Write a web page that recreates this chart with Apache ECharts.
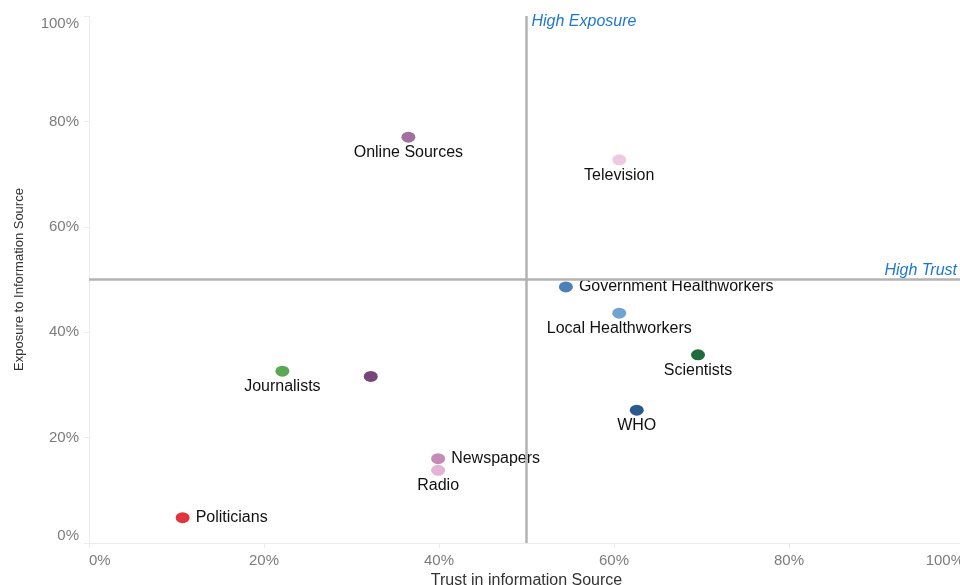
<!DOCTYPE html>
<html>
<head>
<meta charset="utf-8">
<title>Trust vs Exposure</title>
<script src="https://cdn.jsdelivr.net/npm/echarts@6/dist/echarts.min.js"></script>
<style>
    html, body { margin: 0; padding: 0; background: #fff; }
    #chart { width: 960px; height: 585px; }
</style>
</head>
<body>
<div id="chart"></div>
<script>
// fontes de informação e valores
const sources = ['Online Sources', 'Television', 'Government Healthworkers', 'Local Healthworkers',
    'Scientists', 'WHO', 'Journalists', '', 'Newspapers', 'Radio', 'Politicians'];
const trust = [36.5, 60.6, 54.5, 60.6, 69.6, 62.6, 22.1, 32.2, 39.9, 39.9, 10.7];
const exposure = [77.0, 72.7, 48.6, 43.6, 35.7, 25.2, 32.6, 31.6, 16.0, 13.8, 4.8];
const colors = ['#a2709f', '#f1c8e3', '#4c80b6', '#6fa3d0', '#1f6b3b', '#2b5a8c', '#5aa855',
    '#74467a', '#c78ab5', '#e3b4d6', '#e0343f'];
const labelSide = ['bottom', 'bottom', 'right', 'bottom', 'bottom', 'bottom', 'bottom',
    'bottom', 'right', 'bottom', 'right'];
const tickValues = [0, 20, 40, 60, 80, 100];
const threshold = 50;

document.addEventListener('DOMContentLoaded', () => {
    const chartEl = document.getElementById('chart');
    const chart = echarts.init(chartEl);

    const points = sources.map((name, i) => ({
        name,
        value: [trust[i], exposure[i]],
        itemStyle: { color: colors[i], opacity: 1 },
        label: {
            position: labelSide[i],
            distance: labelSide[i] === 'right' ? 6 : 2
        }
    }));

    const axisLine = { show: true, lineStyle: { color: '#ebebeb', width: 1 } };
    const axisTick = { show: true, length: 5, lineStyle: { color: '#ebebeb' } };

    const option = {
        backgroundColor: '#fff',
        animation: false,
        grid: { left: 89, right: -4, top: 16, bottom: 42, containLabel: false, outerBoundsMode: 'none' },
        xAxis: {
            type: 'value',
            min: 0,
            max: 100,
            interval: 20,
            name: 'Trust in information Source',
            nameLocation: 'middle',
            nameGap: 24,
            nameTextStyle: { color: '#333', fontSize: 16, fontFamily: 'Liberation Sans' },
            axisLine,
            axisTick,
            splitLine: { show: false },
            axisLabel: {
                color: '#7c7c7c',
                fontSize: 15,
                fontFamily: 'Liberation Sans',
                margin: 10,
                alignMinLabel: 'left',
                alignMaxLabel: 'right',
                formatter: (v) => (tickValues.includes(v) ? v + '%' : '')
            }
        },
        yAxis: {
            type: 'value',
            min: 0,
            max: 100,
            interval: 20,
            name: 'Exposure to Information Source',
            nameLocation: 'middle',
            nameGap: 63,
            nameTextStyle: { color: '#333', fontSize: 13, fontFamily: 'Liberation Sans' },
            axisLine,
            axisTick,
            splitLine: { show: false },
            axisLabel: {
                color: '#7c7c7c',
                fontSize: 15,
                fontFamily: 'Liberation Sans',
                margin: 10,
                verticalAlignMinLabel: 'bottom',
                verticalAlignMaxLabel: 'top',
                formatter: (v) => (tickValues.includes(v) ? v + '%' : '')
            }
        },
        series: [
            {
                name: 'Sources',
                type: 'scatter',
                symbol: 'circle',
                symbolSize: [14, 11],
                z: 3,
                itemStyle: { opacity: 1 },
                label: {
                    show: true,
                    formatter: '{b}',
                    color: '#111',
                    opacity: 1,
                    fontSize: 16,
                    fontFamily: 'Liberation Sans'
                },
                data: points,
                markLine: {
                    silent: true,
                    symbol: 'none',
                    label: { show: false },
                    lineStyle: { color: '#b3b3b3', width: 2.5, type: 'solid', opacity: 1 },
                    data: [{ xAxis: threshold }, { yAxis: threshold }]
                }
            },
            {
                // rótulos dos quadrantes
                name: 'Quadrants',
                type: 'scatter',
                silent: true,
                clip: false,
                symbolSize: 0,
                itemStyle: { opacity: 1 },
                label: {
                    show: true,
                    formatter: '{b}',
                    color: '#1f78d1',
                    opacity: 1,
                    fontSize: 16,
                    fontStyle: 'italic',
                    fontFamily: 'Liberation Sans'
                },
                data: [
                    { name: 'High Exposure', value: [threshold, 100], label: { position: 'right', distance: 5, offset: [0, 6] } },
                    { name: 'High Trust', value: [100, threshold], label: { position: 'left', distance: 7, offset: [0, -9] } }
                ]
            }
        ]
    };

    chart.setOption(option, true);

    window.addEventListener('resize', () => {
        try { chart.resize(); } catch (e) { }
    });
});
</script>
</body>
</html>
